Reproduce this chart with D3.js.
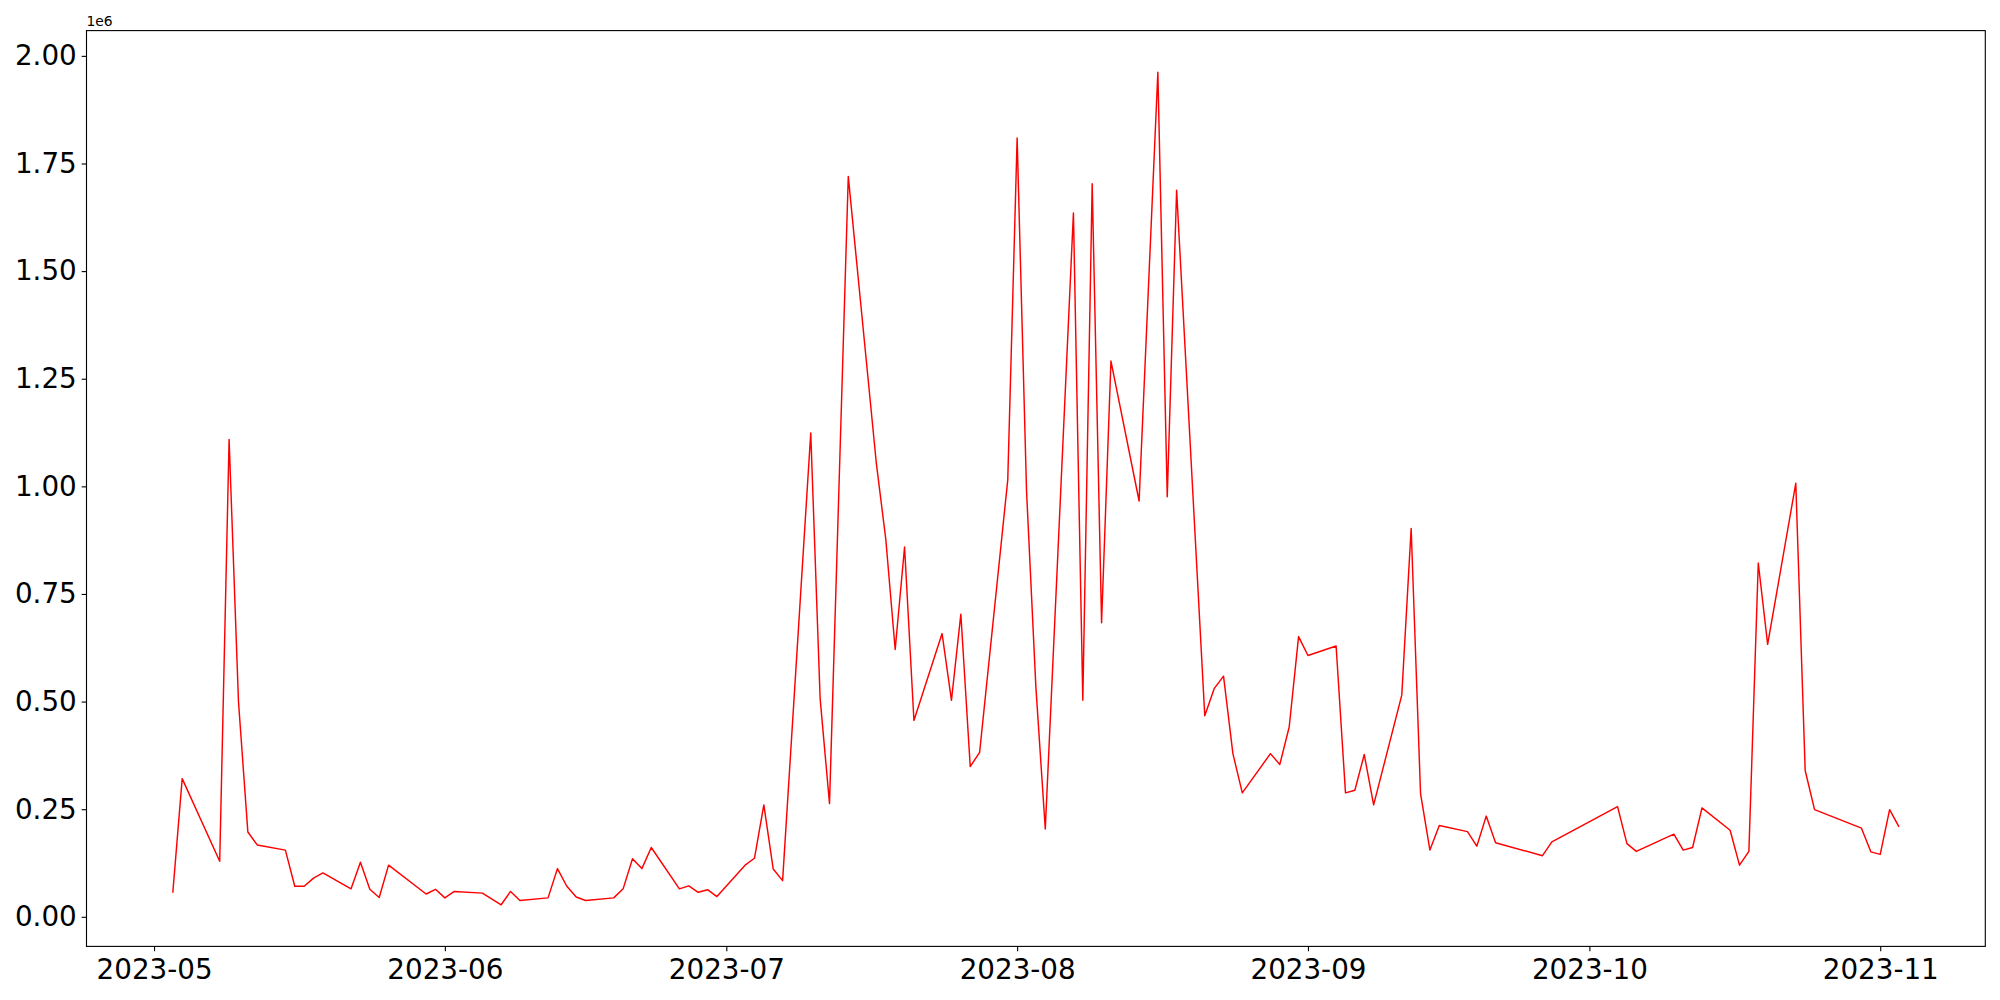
<!DOCTYPE html>
<html>
<head>
<meta charset="utf-8">
<script src="https://cdn.jsdelivr.net/npm/d3@7"></script>
<style>
  body { margin: 0; background: #fff; }
  svg { display: block; font-family: "DejaVu Sans", sans-serif; }
</style>
</head>
<body>
<svg></svg>
<script>
/*
*  DATA
*/

let dates = [
  '2023-05-03','2023-05-04','2023-05-08','2023-05-09','2023-05-10','2023-05-11','2023-05-12',
  '2023-05-15','2023-05-16','2023-05-17','2023-05-18','2023-05-19','2023-05-22','2023-05-23',
  '2023-05-24','2023-05-25','2023-05-26','2023-05-30','2023-05-31','2023-06-01','2023-06-02',
  '2023-06-05','2023-06-07','2023-06-08','2023-06-09','2023-06-12','2023-06-13','2023-06-14',
  '2023-06-15','2023-06-16','2023-06-19','2023-06-20','2023-06-21','2023-06-22','2023-06-23',
  '2023-06-26','2023-06-27','2023-06-28','2023-06-29','2023-06-30','2023-07-03','2023-07-04',
  '2023-07-05','2023-07-06','2023-07-07','2023-07-10','2023-07-11','2023-07-12','2023-07-14',
  '2023-07-17','2023-07-18','2023-07-19','2023-07-20','2023-07-21','2023-07-24','2023-07-25',
  '2023-07-26','2023-07-27','2023-07-28','2023-07-31','2023-08-01','2023-08-02','2023-08-03',
  '2023-08-04','2023-08-07','2023-08-08','2023-08-09','2023-08-10','2023-08-11','2023-08-14',
  '2023-08-16','2023-08-17','2023-08-18','2023-08-21','2023-08-22','2023-08-23','2023-08-24',
  '2023-08-25','2023-08-28','2023-08-29','2023-08-30','2023-08-31','2023-09-01','2023-09-04',
  '2023-09-05','2023-09-06','2023-09-07','2023-09-08','2023-09-11','2023-09-12','2023-09-13',
  '2023-09-14','2023-09-15','2023-09-18','2023-09-19','2023-09-20','2023-09-21','2023-09-26',
  '2023-09-27','2023-10-04','2023-10-05','2023-10-06','2023-10-10','2023-10-11','2023-10-12',
  '2023-10-13','2023-10-16','2023-10-17','2023-10-18','2023-10-19','2023-10-20','2023-10-23',
  '2023-10-24','2023-10-25','2023-10-30','2023-10-31','2023-11-01','2023-11-02','2023-11-03'
]

let values = [
  56000, 321000, 129000, 1109000, 500000, 197000, 167000,
  155000, 71000, 71000, 90000, 102000, 65000, 127000,
  64000, 45000, 120000, 53000, 64000, 44000, 59000,
  55000, 28000, 59000, 38000, 44000, 112000, 71000,
  46000, 38000, 44000, 65000, 135000, 112000, 161000,
  65000, 72000, 57000, 63000, 47000, 120000, 136000,
  260000, 111000, 84000, 1124000, 507000, 263000, 1720000,
  1052000, 877000, 621000, 859000, 456000, 658000, 503000,
  703000, 349000, 382000, 1015000, 1809000, 990000, 533000,
  204000, 1635000, 503000, 1703000, 683000, 1291000, 966000,
  1962000, 976000, 1688000, 467000, 530000, 559000, 379000,
  288000, 379000, 354000, 441000, 651000, 607000, 629000,
  288000, 294000, 377000, 260000, 515000, 902000, 286000,
  155000, 212000, 198000, 164000, 234000, 172000, 142000,
  174000, 256000, 170000, 152000, 192000, 155000, 161000,
  253000, 201000, 120000, 152000, 822000, 633000, 1007000,
  340000, 249000, 206000, 151000, 145000, 249000, 209000
]

let yTicks = [0, 250000, 500000, 750000, 1000000, 1250000, 1500000, 1750000, 2000000]

/*
*  RUN
*/

let width = 2000,
    height = 1000,
    margin = {top: 30.6, right: 14.7, bottom: 53.6, left: 86.5},
    pt = 100 / 72

let svg = d3.select('svg')
  .attr('width', width)
  .attr('height', height)

svg.append('rect')
  .attr('width', width)
  .attr('height', height)
  .attr('fill', '#fff')

let parse = d3.timeParse('%Y-%m-%d')
let data = dates.map((d, i) => ({date: parse(d), value: values[i]}))

drawChart(data)

/*
*  HELPERS
*/

// matplotlib style 5% padding on both ends
function padded(extent){
  let r = extent[1] - extent[0]
  return [extent[0] - r * 0.05, extent[1] + r * 0.05]
}

function drawChart(data){
  let w = width - margin.left - margin.right,
      h = height - margin.top - margin.bottom

  let te = d3.extent(data, d => +d.date)
  let x = d3.scaleTime()
    .domain(padded(te).map(t => new Date(t)))
    .range([0, w])

  let y = d3.scaleLinear()
    .domain(padded(d3.extent(data, d => d.value)))
    .range([h, 0])

  let g = svg.append('g')
    .attr('transform', `translate(${margin.left},${margin.top})`)

  let line = d3.line()
    .x(d => x(d.date))
    .y(d => y(d.value))

  g.append('path')
    .datum(data)
    .attr('d', line)
    .attr('fill', 'none')
    .attr('stroke', 'red')
    .attr('stroke-width', 1.45)
    .attr('stroke-linejoin', 'round')

  let tickLen = 3.5 * pt

  let xAxis = g.append('g')
    .attr('transform', `translate(0,${h})`)
    .call(d3.axisBottom(x)
      .ticks(d3.timeMonth.every(1))
      .tickFormat(d3.timeFormat('%Y-%m'))
      .tickSizeInner(tickLen)
      .tickSizeOuter(0)
      .tickPadding(3.5 * pt + 3))

  let yAxis = g.append('g')
    .call(d3.axisLeft(y)
      .tickValues(yTicks)
      .tickFormat(v => (v / 1e6).toFixed(2))
      .tickSizeInner(tickLen)
      .tickSizeOuter(0)
      .tickPadding(3.5 * pt))

  for(let ax of [xAxis, yAxis]){
    ax.select('.domain').remove()
    ax.selectAll('line').attr('stroke', '#000').attr('stroke-width', 0.8 * pt)
    ax.selectAll('text')
      .attr('fill', '#000')
      .style('font-family', '"DejaVu Sans", sans-serif')
      .style('font-size', (20 * pt) + 'px')
  }

  // frame
  g.append('rect')
    .attr('width', w)
    .attr('height', h)
    .attr('fill', 'none')
    .attr('stroke', '#000')
    .attr('stroke-width', 0.8 * pt)

  // offset text
  g.append('text')
    .text('1e6')
    .attr('x', 0)
    .attr('y', -4.5)
    .style('font-size', (10 * pt) + 'px')
    .attr('fill', '#000')
}
</script>
</body>
</html>
